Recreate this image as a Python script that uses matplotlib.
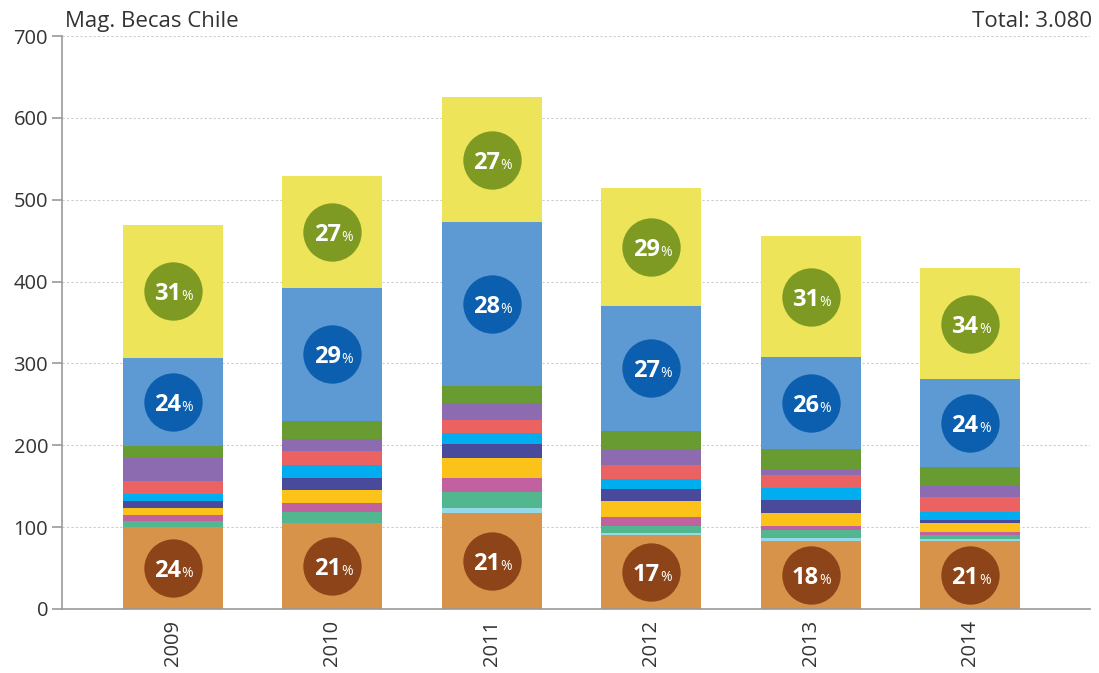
"""
stacked bars of Becas Chile master's grants by year
out: out.png
"""

import numpy as np
import matplotlib.pyplot as plt

plt.rcParams['font.family'] = ['Open Sans', 'DejaVu Sans']

years = ["2009", "2010", "2011", "2012", "2013", "2014"]

# segment heights, bottom to top
base      = [100, 105, 117, 90, 83, 83]
lightcyan = [0, 0, 6, 3, 3.5, 3]
teal      = [8, 13, 19.5, 9, 9.5, 4]
pink      = [7, 11.5, 17, 10, 6, 4]
gold      = [8, 15.5, 24.5, 19.5, 15, 11]
navy      = [8.5, 15, 17, 15, 16, 4]
cyan      = [9, 15.5, 14, 12, 14.5, 10]
red       = [16, 17, 16.5, 17.5, 16.5, 18]
purple    = [28, 15, 20, 19, 5.5, 13.5]
green     = [14.5, 22, 21.5, 23, 26, 23]
blue      = [108, 163, 200, 152, 112, 107]
yellow    = [162, 136, 152, 144, 148, 136]

pct_base   = [24, 21, 21, 17, 18, 21]
pct_blue   = [24, 29, 28, 27, 26, 24]
pct_yellow = [31, 27, 27, 29, 31, 34]

total_label = "Total: 3.080"

series = [
    (base, "#D8934B"),
    (lightcyan, "#93D9E9"),
    (teal, "#52B78E"),
    (pink, "#C2619F"),
    (gold, "#FBC21A"),
    (navy, "#4A4A9C"),
    (cyan, "#00AEEF"),
    (red, "#EB6262"),
    (purple, "#8C6BB1"),
    (green, "#689C32"),
    (blue, "#5D9AD4"),
    (yellow, "#EDE45A"),
]

fig = plt.figure(figsize=(10.99, 6.73), dpi=100)
ax = fig.add_axes([0.0564, 0.0951, 0.9356, 0.8514])

x = np.arange(len(years))
width = 0.627
bottom = np.zeros(len(years))
bottoms = []
for vals, col in series:
    vals = np.array(vals, dtype=float)
    ax.bar(x, vals, width, bottom=bottom, color=col, linewidth=0, zorder=2)
    bottoms.append(bottom.copy())
    bottom = bottom + vals


def badge(xs, lo, h, pcts, col):
    mids = np.array(lo) + np.array(h) / 2.0
    ax.plot(xs, mids, "o", ms=42, color=col, mec="none", zorder=3)
    for xi, yi, p in zip(xs, mids, pcts):
        ax.annotate(str(p), (xi, yi), xytext=(6, -6.5), textcoords="offset points",
                    ha="right", va="baseline", color="white", fontsize=17,
                    fontweight="bold", zorder=4)
        ax.annotate("%", (xi, yi), xytext=(6.2, -6.5), textcoords="offset points",
                    ha="left", va="baseline", color="white", fontsize=10,
                    zorder=4)


badge(x, bottoms[0], base, pct_base, "#8C4418")
badge(x, bottoms[10], blue, pct_blue, "#0B5FAE")
badge(x, bottoms[11], yellow, pct_yellow, "#7E9A22")

ax.set_xlim(-0.696, 5.753)
ax.set_ylim(0, 700)
ax.set_yticks(np.arange(0, 701, 100))
ax.set_xticks(x)
ax.set_xticklabels(years, rotation=90)
ax.yaxis.grid(True, color="#cccccc", linestyle=(0, (2, 2)), linewidth=0.8, zorder=0)
ax.set_axisbelow(True)

for s in ["top", "right"]:
    ax.spines[s].set_visible(False)
for s in ["left", "bottom"]:
    ax.spines[s].set_color("#999999")
    ax.spines[s].set_linewidth(1.2)
ax.tick_params(axis="y", colors="#999999", length=7, width=1.2, labelsize=14.5,
               labelcolor="#333333", pad=3)
ax.tick_params(axis="x", length=0, labelsize=14.5, labelcolor="#333333", pad=8)

fig.text(65 / 1099, 1 - 27 / 673, "Mag. Becas Chile", ha="left", va="baseline",
         fontsize=16, color="#333333")
fig.text(1092 / 1099, 1 - 27 / 673, total_label, ha="right", va="baseline",
         fontsize=16, color="#333333")

plt.savefig("out.png", dpi=100)
